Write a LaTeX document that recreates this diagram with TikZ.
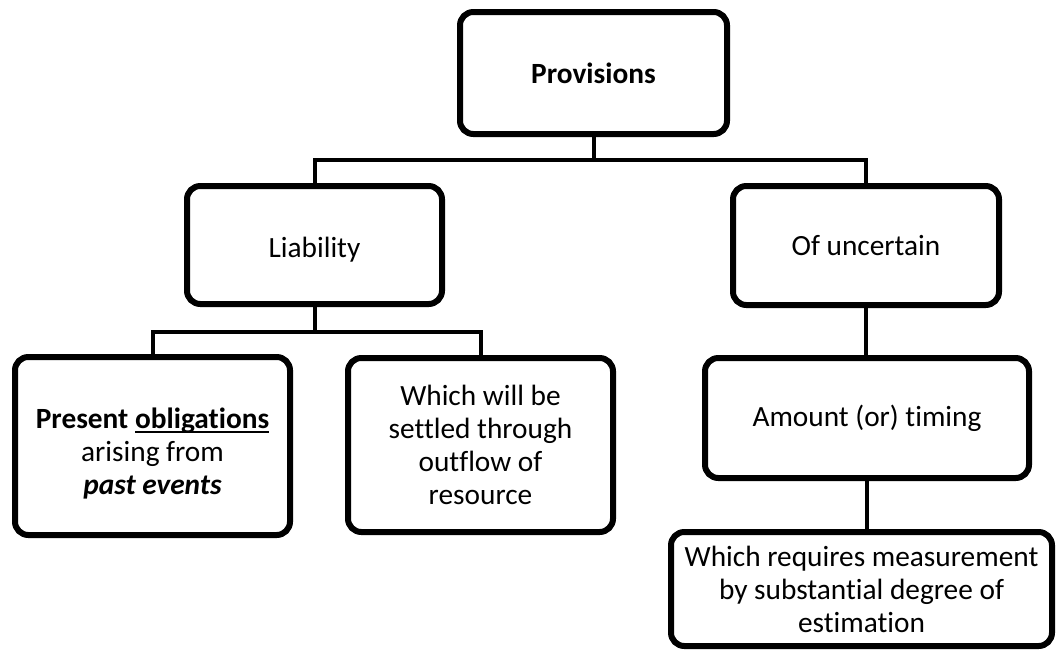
\documentclass[tikz,border=0pt]{standalone}
\usepackage{fontspec}
\setmainfont{Carlito}[Ligatures={NoCommon,NoRequired,NoContextual}]
\usetikzlibrary{shadows}
\newcommand{\myul}[1]{\setbox0\hbox{#1}\rlap{\rule[-3pt]{\wd0}{1.1pt}}\box0}
\tikzset{
  box/.style={draw=black, line width=4.5pt, rounded corners=10pt, fill=white,
    align=center, inner sep=0pt, font=\fontsize{22}{24.75}\selectfont,
    drop shadow={opacity=0.25, shadow xshift=1.5pt, shadow yshift=-1.5pt}},
  conn/.style={draw=black, line width=3pt}
}
\begin{document}
\begin{tikzpicture}[x=0.75pt, y=-0.75pt]
\useasboundingbox (0,0) rectangle (1057,651);
\node[box, minimum width=267*0.75pt, minimum height=122*0.75pt] (prov) at (593.5,73) {\textbf{Provisions}};
\node[box, minimum width=255*0.75pt, minimum height=118*0.75pt] (liab) at (314.5,245) {\rule{0pt}{22pt}Liability};
\node[box, minimum width=266*0.75pt, minimum height=119*0.75pt] (unc) at (866,245.5) {Of uncertain};
\node[box, minimum width=275*0.75pt, minimum height=178*0.75pt] (pres) at (152.5,446) {\begin{tabular}{@{}c@{}}\rule{0pt}{31pt}\textbf{Present \myul{obligations}}\\arising from\\\textbf{\textit{past events}}\end{tabular}};
\node[box, minimum width=265*0.75pt, minimum height=174*0.75pt] (which) at (480.5,445) {Which will be\\settled through\\outflow of\\resource};
\node[box, minimum width=324*0.75pt, minimum height=120*0.75pt] (amt) at (867,418) {Amount (or) timing};
\node[box, minimum width=381*0.75pt, minimum height=114*0.75pt] (meas) at (861.5,589) {Which requires measurement\\by substantial degree of\\estimation};
\coordinate (b1) at (0,160);
\coordinate (b2) at (0,332);
\draw[conn] (prov.south) -- (prov.south |- b1);
\draw[conn] (liab.north) -- (liab.north |- b1) -- (unc.north |- b1) -- (unc.north);
\draw[conn] (liab.south) -- (liab.south |- b2);
\draw[conn] (pres.north) -- (pres.north |- b2) -- (which.north |- b2) -- (which.north);
\draw[conn] (unc.south) -- (unc.south |- amt.north);
\draw[conn] (amt.south) -- (amt.south |- meas.north);
\end{tikzpicture}
\end{document}
